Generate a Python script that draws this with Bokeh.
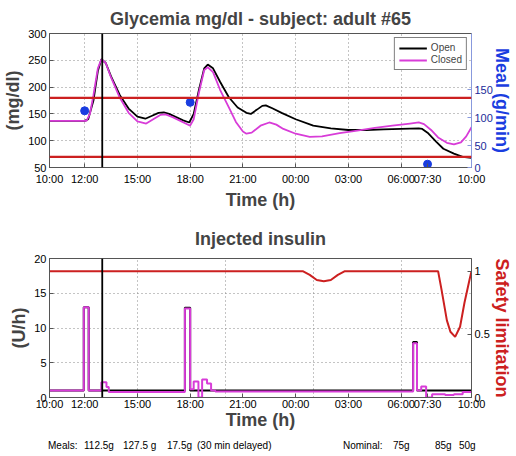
from bokeh.plotting import figure
from bokeh.models import Range1d, LinearAxis, FixedTicker, Span, Legend, LegendItem, Div
from bokeh.layouts import column
from bokeh.embed import file_html
from bokeh.resources import INLINE

FONT = "Liberation Sans"
MAG = "#d83cd8"
RED = "#cc2020"
BLUE = "#1a3de0"

# time axis: hours after 10:00
tick_pos = [0, 2, 5, 8, 11, 14, 17, 20, 21.5, 24]
tick_labels = ["10:00", "12:00", "15:00", "18:00", "21:00", "00:00", "03:00", "06:00", "07:30", "10:00"]

# glycemia (mg/dl)
open_t = [0, 2.0, 2.2, 2.5, 2.75, 2.95, 3.2, 3.5, 4.0, 4.5, 5.0, 5.45, 5.8, 6.2, 6.5, 6.8, 7.2, 7.6, 7.95,
          8.2, 8.5, 8.8, 9.0, 9.3, 9.7, 10.2, 10.7, 11.2, 11.45, 11.8, 12.1, 12.3, 12.7, 13.2, 14.0, 15.0,
          16.0, 17.0, 18.0, 19.0, 20.0, 21.0, 21.2, 21.5, 22.0, 22.4, 23.0, 23.5, 24.0]
open_g = [137, 137, 140, 175, 230, 252, 245, 220, 185, 160, 145, 141, 146, 152, 153, 150, 144, 138, 134,
          150, 195, 235, 242, 235, 210, 181, 162, 152, 150, 158, 165, 166, 160, 152, 140, 128,
          123, 120, 120, 121, 122, 123, 122, 115, 98, 85, 76, 70, 68]
closed_t = [0, 2.1, 2.3, 2.5, 2.75, 2.95, 3.2, 3.5, 4.0, 4.5, 5.0, 5.5, 5.9, 6.3, 6.6, 7.0, 7.5, 8.0,
            8.2, 8.5, 8.8, 9.0, 9.3, 9.7, 10.2, 10.6, 11.0, 11.2, 11.5, 12.0, 12.5, 12.9, 13.3, 14.0,
            14.8, 15.5, 16.5, 17.5, 18.5, 19.5, 20.5, 21.0, 21.3, 21.7, 22.1, 22.6, 23.0, 23.4, 23.7, 24.0]
closed_g = [137, 137, 150, 185, 235, 252, 245, 218, 180, 152, 136, 132, 140, 148, 149, 144, 136, 128,
            140, 190, 232, 237, 228, 195, 162, 135, 117, 113, 115, 128, 134, 130, 122, 113,
            107, 108, 114, 119, 124, 128, 132, 134, 131, 120, 106, 96, 93, 97, 108, 125]
meal_t = [2, 8, 21.5]
meal_rate = [112.5, 127.5, 17.5]
hyper_level = 180
hypo_level = 70
event_t = 3.0

# insulin (U/h), step values starting at each time
ins_open_t = [0, 1.95, 2.23, 7.7, 8.0, 20.68, 20.9, 24]
ins_open = [1, 13, 1, 12.9, 1, 8.0, 1, 1]
ins_closed_t = [0, 1.95, 2.23, 2.95, 3.24, 3.37, 7.7, 8.0, 8.2, 8.47, 8.68, 8.96, 9.19, 9.43,
                20.68, 20.9, 21.14, 21.42, 21.76, 22.5, 23.0, 23.5, 24]
ins_closed = [1, 13, 1, 2.2, 1.5, 0.8, 12.8, 1.2, 2.3, 0, 2.6, 2.0, 1.0, 0.85,
              7.8, 1.0, 1.6, 0, 0.45, 0.35, 0.45, 0.8, 0.9]

# safety limitation (0..1)
safety_t = [0, 14.4, 14.8, 15.2, 15.6, 16.0, 16.4, 16.8, 22.1, 22.3, 22.6, 22.8, 23.07, 23.35, 23.6, 23.9, 24]
safety = [1, 1, 0.97, 0.93, 0.92, 0.93, 0.97, 1, 1, 0.85, 0.61, 0.52, 0.48, 0.56, 0.75, 0.94, 1.0]

footer_x = [48, 84, 123, 167, 197, 343, 393, 435, 459]
footer_txt = ["Meals:", "112.5g", "127.5 g", "17.5g", "(30 min delayed)", "Nominal:", "75g", "85g", "50g"]


def style_axis(ax, color="black"):
    ax.major_label_text_font = FONT
    ax.major_label_text_font_size = "11px"
    ax.major_label_text_color = color
    ax.axis_label_text_font = FONT
    ax.axis_label_text_font_style = "bold"
    ax.axis_label_text_font_size = "18px"
    ax.major_tick_in = 4
    ax.major_tick_out = 0
    ax.minor_tick_in = 0
    ax.minor_tick_out = 0
    ax.axis_line_color = "#555555"
    ax.major_tick_line_color = "#555555"
    ax.major_label_standoff = 3
    ax.axis_label_standoff = 2


def style_fig(p):
    p.title.text_font = FONT
    p.title.text_font_size = "18px"
    p.title.text_font_style = "bold"
    p.title.align = "center"
    p.outline_line_color = "#555555"
    p.grid.grid_line_dash = "1 3"
    p.grid.grid_line_color = "#888888"
    p.background_fill_color = "white"
    p.border_fill_color = "white"


# ---------- top figure ----------
p1 = figure(width=516, height=213, x_range=Range1d(0, 24), y_range=Range1d(50, 300),
            output_backend="svg", toolbar_location=None, title="Glycemia mg/dl - subject: adult #65",
            min_border_left=49, min_border_right=45, min_border_top=33, min_border_bottom=46)
style_fig(p1)
p1.extra_y_ranges = {"meal": Range1d(11.6, 250)}
p1.xaxis.ticker = FixedTicker(ticks=tick_pos)
p1.xaxis.major_label_overrides = dict(zip(tick_pos, tick_labels))
p1.xaxis.axis_label = "Time (h)"
p1.yaxis.ticker = FixedTicker(ticks=[50, 100, 150, 200, 250, 300])
p1.yaxis.axis_label = "(mg/dl)"
style_axis(p1.xaxis[0])
style_axis(p1.yaxis[0])
p1.xaxis.major_label_standoff = 5
p1.xgrid.ticker = FixedTicker(ticks=[2, 5, 8, 11, 14, 17, 20])
p1.ygrid.ticker = FixedTicker(ticks=[100, 150, 200, 250])

r_open = p1.line(open_t, open_g, line_color="black", line_width=1.8)
r_closed = p1.line(closed_t, closed_g, line_color=MAG, line_width=1.8)
p1.scatter(meal_t, meal_rate, y_range_name="meal", size=8, fill_color=BLUE, line_color=BLUE)

p1.add_layout(Span(location=hyper_level, dimension="width", line_color=RED, line_width=2.2))
p1.add_layout(Span(location=hypo_level, dimension="width", line_color=RED, line_width=2.2))
p1.add_layout(Span(location=event_t, dimension="height", line_color="black", line_width=1.8))

ax_meal = LinearAxis(y_range_name="meal", axis_label="Meal (g/min)",
                     ticker=FixedTicker(ticks=[11.6, 50, 100, 150]))
ax_meal.major_label_overrides = {11.6: "0"}
style_axis(ax_meal, color="#1a2a9a")
ax_meal.axis_label_standoff = -4
ax_meal.axis_label_text_color = BLUE
ax_meal.axis_line_color = "#8899dd"
ax_meal.major_tick_line_color = "#8899dd"
p1.add_layout(ax_meal, "right")

legend = Legend(items=[LegendItem(label="Open", renderers=[r_open]),
                       LegendItem(label="Closed", renderers=[r_closed])],
                location="top_right", label_text_font=FONT, label_text_font_size="10px",
                glyph_width=28, glyph_height=10, label_height=10, label_standoff=4,
                padding=4, spacing=1, margin=4, border_line_color="black",
                background_fill_alpha=1.0)
p1.add_layout(legend)

# ---------- bottom figure ----------
p2 = figure(width=516, height=222, x_range=Range1d(0, 24), y_range=Range1d(0, 20),
            output_backend="svg", toolbar_location=None, title="Injected insulin",
            min_border_left=49, min_border_right=45, min_border_top=45, min_border_bottom=38)
style_fig(p2)
p2.title.standoff = 19
p2.extra_y_ranges = {"safety": Range1d(0, 1.1)}
p2.xaxis.ticker = FixedTicker(ticks=tick_pos)
p2.xaxis.major_label_overrides = dict(zip(tick_pos, tick_labels))
p2.xaxis.axis_label = "Time (h)"
p2.yaxis.ticker = FixedTicker(ticks=[0, 5, 10, 15, 20])
p2.yaxis.axis_label = "(U/h)"
style_axis(p2.xaxis[0])
style_axis(p2.yaxis[0])
p2.xaxis.major_label_standoff = 0
p2.xaxis.axis_label_standoff = -3
p2.xgrid.ticker = FixedTicker(ticks=[5, 10, 15, 20])
p2.ygrid.ticker = FixedTicker(ticks=[5, 10, 15])

p2.step(ins_open_t, ins_open, mode="after", line_color="black", line_width=2)
p2.step(ins_closed_t, ins_closed, mode="after", line_color=MAG, line_width=2)
p2.line(safety_t, safety, y_range_name="safety", line_color=RED, line_width=2)
p2.add_layout(Span(location=event_t, dimension="height", line_color="black", line_width=1.8))

ax_safe = LinearAxis(y_range_name="safety", axis_label="Safety limitation",
                     ticker=FixedTicker(ticks=[0, 0.5, 1]))
style_axis(ax_safe)
ax_safe.axis_label_standoff = -1
ax_safe.axis_label_text_color = RED
p2.add_layout(ax_safe, "right")

# ---------- footer ----------
spans = "".join(
    f'<span style="position:absolute;left:{x}px;top:4px;white-space:nowrap">{t}</span>'
    for x, t in zip(footer_x, footer_txt))
footer = Div(text=f'<div style="position:relative;width:516px;height:21px;'
                  f'font-family:\'{FONT}\';font-size:10px;color:black">{spans}</div>',
             width=516, height=21, margin=(0, 0, 0, 0))

layout = column(p1, p2, footer, spacing=0)
open("out.html", "w").write(file_html(layout, INLINE))
